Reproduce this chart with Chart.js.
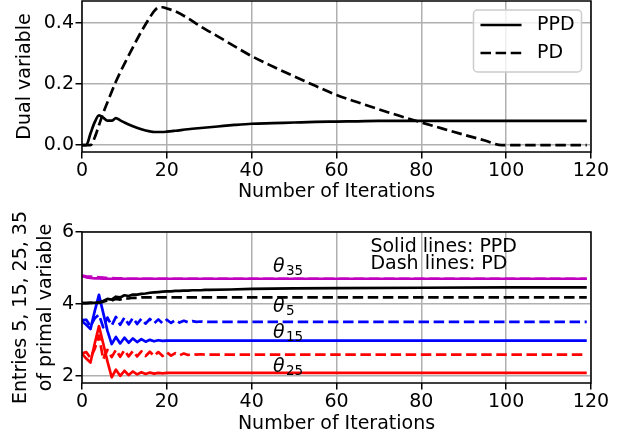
<!DOCTYPE html>
<html>
<head>
  <meta charset="utf-8">
  <title>PPD vs PD iterations</title>
  <script src="https://cdn.jsdelivr.net/npm/chart.js"></script>
  <style>
    body {
      margin: 0;
      background-color: #ffffff;
    }
    .wrap {
      position: relative;
      width: 630px;
      height: 443px;
    }
    canvas {
      position: absolute;
      left: 0;
    }
    #dualChart { top: 0; }
    #primalChart { top: 195px; }
  </style>
</head>
<body>
  <div class="wrap">
    <canvas id="dualChart" width="630" height="215"></canvas>
    <canvas id="primalChart" width="630" height="248"></canvas>
  </div>

  <script>
    // ticks
    const iterTicks = [0, 20, 40, 60, 80, 100, 120];
    const dualTicks = [0, 0.2, 0.4];
    const primalTicks = [2, 4, 6];

    // top panel: dual variable
    const dualIters = [0, 1, 2, 3, 4, 5, 6, 7, 8, 9, 10, 12, 14, 16, 17, 18, 19, 20, 22, 25, 28, 32, 36, 40,
      45, 50, 55, 60, 65, 70, 75, 80, 85, 90, 95, 99, 100, 110, 119];
    const dualPPD = [0, 0, 0.038, 0.075, 0.097, 0.090, 0.080, 0.080, 0.088, 0.081, 0.074, 0.062, 0.052, 0.045,
      0.043, 0.043, 0.043, 0.044, 0.047, 0.052, 0.056, 0.061, 0.066, 0.070, 0.072, 0.074, 0.076, 0.077,
      0.078, 0.079, 0.079, 0.079, 0.079, 0.079, 0.079, 0.079, 0.079, 0.079, 0.079];
    const dualPD = [0, 0, 0, 0.025, 0.065, 0.105, 0.140, 0.175, 0.208, 0.238, 0.266, 0.320, 0.372, 0.418,
      0.438, 0.450, 0.451, 0.447, 0.438, 0.415, 0.388, 0.356, 0.323, 0.291, 0.257, 0.225, 0.194, 0.164,
      0.140, 0.117, 0.095, 0.074, 0.054, 0.034, 0.015, 0, 0, 0, 0];

    // bottom panel: entries 5, 15, 25, 35 of the primal variable
    const primalIters = [0, 1, 2, 3, 4, 5, 6, 7, 8, 9, 10, 11, 12, 13, 14, 15, 16, 17, 18, 19, 20,
      21, 22, 23, 24, 25, 26, 27, 28, 29, 30, 35, 40, 50, 60, 80, 100, 119];
    const ppd5 = [4.02, 4.02, 4.03, 4.03, 4.04, 4.08, 4.14, 4.12, 4.20, 4.18, 4.24, 4.22, 4.26, 4.26, 4.28,
      4.29, 4.31, 4.32, 4.33, 4.34, 4.35, 4.35, 4.36, 4.36, 4.37, 4.37, 4.38, 4.38, 4.38, 4.39, 4.39,
      4.40, 4.42, 4.43, 4.44, 4.45, 4.46, 4.46];
    const pd5 = [4.02, 4.02, 4.03, 4.03, 4.03, 4.06, 4.10, 4.09, 4.14, 4.12, 4.16, 4.15, 4.17, 4.17, 4.18,
      4.18, 4.18, 4.18, 4.18, 4.18, 4.18, 4.18, 4.18, 4.18, 4.18, 4.18, 4.18, 4.18, 4.18, 4.18, 4.18,
      4.18, 4.18, 4.18, 4.18, 4.18, 4.18, 4.18];
    const ppd15 = [3.52, 3.42, 3.30, 3.80, 4.25, 3.75, 3.25, 2.88, 3.08, 2.90, 3.06, 2.92, 3.04, 2.94, 3.02,
      2.95, 3.00, 2.96, 2.99, 2.97, 2.98, 2.98, 2.98, 2.98, 2.98, 2.98, 2.98, 2.98, 2.98, 2.98, 2.98,
      2.98, 2.98, 2.98, 2.98, 2.98, 2.98, 2.98];
    const pd15 = [3.55, 3.56, 3.38, 3.60, 3.70, 3.35, 3.62, 3.40, 3.64, 3.42, 3.62, 3.43, 3.61, 3.44, 3.59,
      3.45, 3.58, 3.46, 3.57, 3.46, 3.56, 3.47, 3.55, 3.48, 3.53, 3.49, 3.52, 3.50, 3.51, 3.50, 3.50,
      3.50, 3.50, 3.50, 3.50, 3.50, 3.50, 3.50];
    const ppd25 = [2.62, 2.48, 2.37, 2.90, 3.38, 2.90, 2.40, 1.96, 2.17, 2.00, 2.14, 2.02, 2.12, 2.04, 2.10,
      2.05, 2.09, 2.06, 2.08, 2.07, 2.08, 2.08, 2.08, 2.08, 2.08, 2.08, 2.08, 2.08, 2.08, 2.08, 2.08,
      2.08, 2.08, 2.08, 2.08, 2.08, 2.08, 2.08];
    const pd25 = [2.62, 2.66, 2.50, 2.75, 3.12, 2.46, 2.72, 2.52, 2.72, 2.53, 2.71, 2.54, 2.69, 2.54, 2.68,
      2.55, 2.67, 2.55, 2.66, 2.55, 2.65, 2.56, 2.63, 2.57, 2.62, 2.58, 2.61, 2.59, 2.60, 2.59, 2.59,
      2.59, 2.59, 2.59, 2.59, 2.59, 2.59, 2.59];
    const ppd35 = [4.77, 4.74, 4.72, 4.71, 4.71, 4.70, 4.70, 4.70, 4.70, 4.70, 4.70, 4.70, 4.70, 4.70, 4.70,
      4.70, 4.70, 4.70, 4.70, 4.70, 4.70, 4.70, 4.70, 4.70, 4.70, 4.70, 4.70, 4.70, 4.70, 4.70, 4.70,
      4.70, 4.70, 4.70, 4.70, 4.70, 4.70, 4.70];
    const pd35 = [4.79, 4.77, 4.76, 4.75, 4.74, 4.73, 4.72, 4.72, 4.71, 4.71, 4.71, 4.70, 4.70, 4.70, 4.70,
      4.70, 4.70, 4.70, 4.70, 4.70, 4.70, 4.70, 4.70, 4.70, 4.70, 4.70, 4.70, 4.70, 4.70, 4.70, 4.70,
      4.70, 4.70, 4.70, 4.70, 4.70, 4.70, 4.70];

    // text labels inside the bottom panel
    const thetaSubs = ['35', '5', '15', '25'];
    const noteLines = ['Solid lines: PPD', 'Dash lines: PD'];

    Chart.defaults.font.family = '"DejaVu Sans"';
    Chart.defaults.font.size = 19;
    Chart.defaults.color = '#000';

    const FONT = '"DejaVu Sans"';
    const LW = 2.7;
    const DASH = [10.5, 4.6];

    function pairs(xs, ys) {
      return xs.map((x, i) => ({ x: x, y: ys[i] }));
    }

    const gridStyle = {
      color: '#b0b0b0',
      lineWidth: 1.5,
      tickColor: '#000',
      tickWidth: 1.5,
      tickLength: 6.5
    };

    function xAxis(height, titlePad) {
      return {
        type: 'linear',
        min: 0,
        max: 120,
        afterBuildTicks: s => { s.ticks = iterTicks.map(v => ({ value: v })); },
        afterFit: s => { s.height = height; s.paddingLeft = 0; s.paddingRight = 0; },
        grid: gridStyle,
        border: { display: false },
        ticks: { padding: 1, maxRotation: 0, autoSkip: false, callback: v => String(v) },
        title: { display: true, text: 'Number of Iterations', padding: { top: 0, bottom: titlePad } }
      };
    }

    function yAxis(min, max, tickValues, fmt, title, lineHeight, titlePad) {
      return {
        type: 'linear',
        min: min,
        max: max,
        afterBuildTicks: s => { s.ticks = tickValues.map(v => ({ value: v })); },
        afterFit: s => { s.width = 82; s.paddingTop = 0; s.paddingBottom = 0; },
        grid: gridStyle,
        border: { display: false },
        ticks: { padding: 1.5, autoSkip: false, callback: fmt },
        title: { display: true, text: title, font: { lineHeight: lineHeight }, padding: { top: titlePad, bottom: 0 } }
      };
    }

    // spines on all four sides
    const frame = {
      id: 'frame',
      afterDatasetsDraw(chart) {
        const { ctx, chartArea: a } = chart;
        ctx.save();
        ctx.strokeStyle = '#000';
        ctx.lineWidth = 1.5;
        ctx.strokeRect(a.left, a.top, a.right - a.left, a.bottom - a.top);
        ctx.restore();
      }
    };

    // matplotlib style legend, upper right
    const dualLegend = {
      id: 'dualLegend',
      afterDatasetsDraw(chart) {
        const { ctx, chartArea: a } = chart;
        const w = 108, h = 62;
        const x0 = a.right - 9.5 - w, y0 = a.top + 9;
        ctx.save();
        ctx.beginPath();
        ctx.roundRect(x0, y0, w, h, 4);
        ctx.fillStyle = 'rgba(255,255,255,0.8)';
        ctx.fill();
        ctx.strokeStyle = '#cccccc';
        ctx.lineWidth = 1.5;
        ctx.stroke();
        ctx.font = '19px ' + FONT;
        ctx.textBaseline = 'middle';
        chart.data.datasets.forEach((ds, i) => {
          const cy = y0 + 15 + i * 28;
          ctx.beginPath();
          ctx.setLineDash(ds.borderDash || []);
          ctx.strokeStyle = ds.borderColor;
          ctx.lineWidth = ds.borderWidth;
          ctx.moveTo(x0 + 7, cy);
          ctx.lineTo(x0 + 48, cy);
          ctx.stroke();
          ctx.setLineDash([]);
          ctx.fillStyle = '#000';
          ctx.fillText(ds.label, x0 + 63.5, cy);
        });
        ctx.restore();
      }
    };

    // theta labels and the solid/dash note, placed in data coordinates
    const thetaAt = { x: 45, y: [4.9, 3.78, 3.06, 2.11] };
    const noteAt = { x: 68, y: 5.45 };
    const primalNotes = {
      id: 'primalNotes',
      afterDatasetsDraw(chart) {
        const { ctx, scales: { x, y } } = chart;
        ctx.save();
        ctx.fillStyle = '#000';
        ctx.textBaseline = 'alphabetic';
        ctx.textAlign = 'left';
        thetaSubs.forEach((sub, i) => {
          const px = x.getPixelForValue(thetaAt.x);
          const py = y.getPixelForValue(thetaAt.y[i]);
          ctx.font = 'italic 19px ' + FONT;
          ctx.fillText('\u03b8', px, py);
          const tw = ctx.measureText('\u03b8').width;
          ctx.font = '13.5px ' + FONT;
          ctx.fillText(sub, px + tw + 1.5, py + 3);
        });
        ctx.font = '19px ' + FONT;
        const nx = x.getPixelForValue(noteAt.x);
        const ny = y.getPixelForValue(noteAt.y);
        noteLines.forEach((t, i) => ctx.fillText(t, nx, ny + i * 17.3));
        ctx.restore();
      }
    };

    const baseElements = {
      point: { radius: 0 },
      line: { borderCapStyle: 'butt', borderJoinStyle: 'round', tension: 0, fill: false }
    };

    new Chart(document.getElementById('dualChart'), {
      type: 'line',
      data: {
        datasets: [
          { label: 'PPD', data: pairs(dualIters, dualPPD), borderColor: '#000', borderWidth: LW,
            order: 2, cubicInterpolationMode: 'monotone' },
          { label: 'PD', data: pairs(dualIters, dualPD), borderColor: '#000', borderWidth: LW,
            borderDash: DASH, order: 1, cubicInterpolationMode: 'monotone' }
        ]
      },
      options: {
        responsive: false,
        animation: false,
        events: [],
        layout: { padding: { top: 1, right: 39, bottom: 0, left: 0 } },
        elements: baseElements,
        plugins: { legend: { display: false }, tooltip: { enabled: false } },
        scales: {
          x: xAxis(63, 11.6),
          y: yAxis(-0.0225, 0.4715, dualTicks, v => v.toFixed(1), 'Dual variable', 1.2, 13.6)
        }
      },
      plugins: [frame, dualLegend]
    });

    function line(values, color, dashed) {
      return {
        data: pairs(primalIters, values),
        borderColor: color,
        borderWidth: LW,
        borderDash: dashed ? DASH : []
      };
    }

    new Chart(document.getElementById('primalChart'), {
      type: 'line',
      data: {
        datasets: [
          line(ppd5, '#000000', false), line(pd5, '#000000', true),
          line(ppd15, '#0000ff', false), line(pd15, '#0000ff', true),
          line(ppd25, '#ff0000', false), line(pd25, '#ff0000', true),
          line(ppd35, '#bf00bf', false), line(pd35, '#bf00bf', true)
        ]
      },
      options: {
        responsive: false,
        animation: false,
        events: [],
        layout: { padding: { top: 37, right: 39, bottom: 0, left: 0 } },
        elements: baseElements,
        plugins: { legend: { display: false }, tooltip: { enabled: false } },
        scales: {
          x: xAxis(60, 8),
          y: yAxis(1.8, 6, primalTicks, v => String(v),
            ['Entries 5, 15, 25, 35', 'of primal variable'], 1.3, 8.6)
        }
      },
      plugins: [frame, primalNotes]
    });
  </script>
</body>
</html>
